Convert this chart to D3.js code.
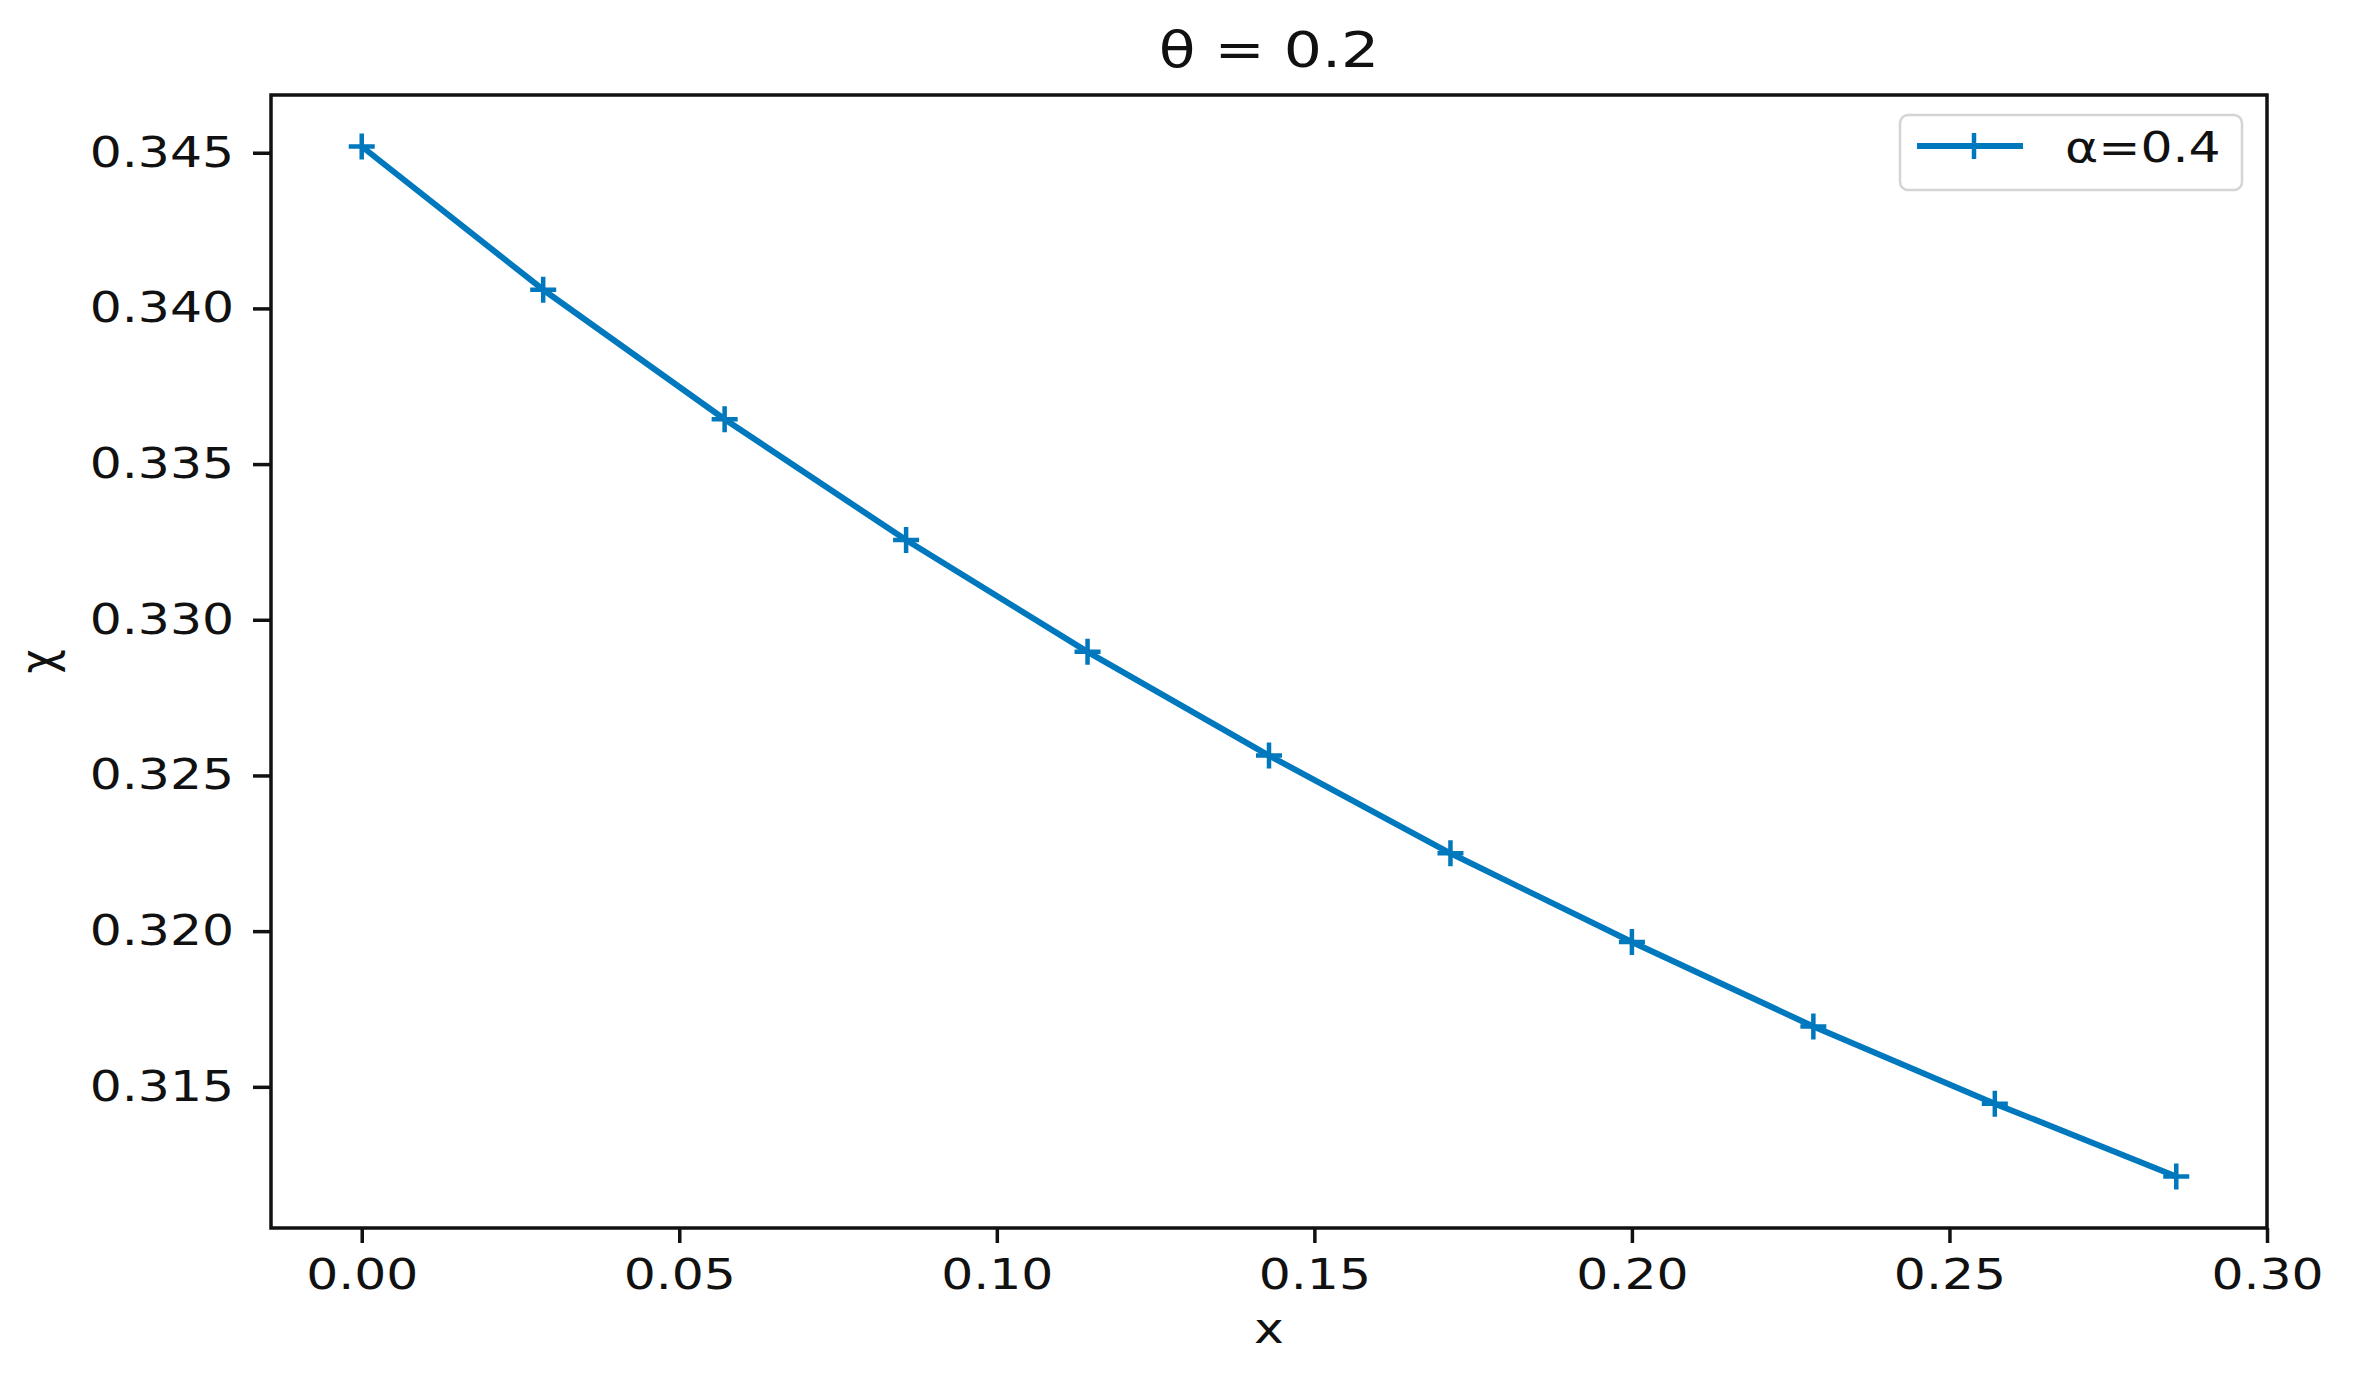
<!DOCTYPE html>
<html>
<head>
<meta charset="utf-8">
<script src="https://cdnjs.cloudflare.com/ajax/libs/d3/7.8.5/d3.min.js"></script>
<style>
  body { margin: 0; background: #fff; }
  text { font-family: "DejaVu Sans", sans-serif; fill: #111; }
</style>
</head>
<body>
<div id="chart"></div>
<script>
// data
var xValues = [0, 1/35, 2/35, 3/35, 4/35, 5/35, 6/35, 7/35, 8/35, 9/35, 10/35];
var chiValues = [0.3452, 0.3406, 0.33644, 0.33256, 0.32897, 0.32564, 0.3225, 0.31965, 0.31694, 0.31446, 0.31212];
var xTicks = [0.00, 0.05, 0.10, 0.15, 0.20, 0.25, 0.30];
var yTicks = [0.315, 0.320, 0.325, 0.330, 0.335, 0.340, 0.345];
var seriesName = "α=0.4";
var titleText = "θ = 0.2";

var W = 2366, H = 1375;
var plotL = 271, plotR = 2267, plotT = 95, plotB = 1228;
var sx = 1.2;   // the reference is stretched sideways
var blue = "#0078bd";

var svg = d3.select("#chart").append("svg")
  .attr("width", W).attr("height", H);

// matplotlib style 5% margins
var xMax = d3.max(xValues), xPad = xMax * 0.05;
var x = d3.scaleLinear().domain([-xPad, xMax + xPad]).range([plotL, plotR]);
var yMin = d3.min(chiValues), yMax = d3.max(chiValues), yPad = (yMax - yMin) * 0.05;
var y = d3.scaleLinear().domain([yMin - yPad, yMax + yPad]).range([plotB, plotT]);

// y axis
var gy = svg.append("g")
  .attr("transform", "translate(" + plotL + ",0)")
  .call(d3.axisLeft(y).tickValues(yTicks).tickFormat(d3.format(".3f"))
    .tickSizeInner(18).tickSizeOuter(0).tickPadding(19));
gy.select(".domain").remove();
gy.selectAll(".tick line").attr("stroke", "#111").attr("stroke-width", 3.5);
gy.selectAll(".tick text")
  .attr("x", -37 / sx)
  .attr("transform", "scale(" + sx + ",1)")
  .style("font-size", "42px")
  .style("font-family", "DejaVu Sans")
  .attr("fill", "#111");

// x axis
var gx = svg.append("g")
  .attr("transform", "translate(0," + plotB + ")")
  .call(d3.axisBottom(x).tickValues(xTicks).tickFormat(d3.format(".2f"))
    .tickSizeInner(15).tickSizeOuter(0).tickPadding(16));
gx.select(".domain").remove();
gx.selectAll(".tick line").attr("stroke", "#111").attr("stroke-width", 3.5);
gx.selectAll(".tick text")
  .attr("transform", "scale(" + sx + ",1)")
  .style("font-size", "42px")
  .style("font-family", "DejaVu Sans")
  .attr("fill", "#111");

// frame
svg.append("rect")
  .attr("x", plotL).attr("y", plotT)
  .attr("width", plotR - plotL).attr("height", plotB - plotT)
  .attr("fill", "none").attr("stroke", "#111").attr("stroke-width", 3.5);

// the line
var pts = xValues.map(function (d, i) { return [d, chiValues[i]]; });
var line = d3.line().x(function (d) { return x(d[0]); }).y(function (d) { return y(d[1]); });
svg.append("path")
  .datum(pts)
  .attr("d", line)
  .attr("fill", "none")
  .attr("stroke", blue)
  .attr("stroke-width", 6)
  .attr("stroke-linejoin", "round");

// plus markers
var m = 13;
svg.selectAll(".mark")
  .data(pts)
  .enter()
  .append("path")
    .attr("class", "mark")
    .attr("d", function (d) {
      var cx = x(d[0]), cy = y(d[1]);
      return "M" + (cx - m) + "," + cy + "H" + (cx + m) + "M" + cx + "," + (cy - m) + "V" + (cy + m);
    })
    .attr("stroke", blue)
    .attr("stroke-width", 4.5);

// title and labels
function stretchedText(px, py, str, size, rot) {
  return svg.append("text")
    .attr("transform", "translate(" + px + "," + py + ") scale(" + sx + ",1)" + (rot ? " rotate(" + rot + ")" : ""))
    .attr("text-anchor", "middle")
    .style("font-size", size + "px")
    .text(str);
}
var midX = (plotL + plotR) / 2;
stretchedText(midX, 67, titleText, 50);
stretchedText(midX, 1343, "x", 42);
stretchedText(55, (plotT + plotB) / 2, "χ", 42, -90);

// legend
var lgX = plotR - 25 - 342, lgY = plotT + 20;
var lg = svg.append("g").attr("transform", "translate(" + lgX + "," + lgY + ")");
lg.append("rect")
  .attr("width", 342).attr("height", 75)
  .attr("rx", 8).attr("ry", 8)
  .attr("fill", "#fff").attr("fill-opacity", 0.8)
  .attr("stroke", "#d4d4d4").attr("stroke-width", 2.5);
lg.append("line")
  .attr("x1", 17).attr("x2", 123).attr("y1", 31).attr("y2", 31)
  .attr("stroke", blue).attr("stroke-width", 6);
lg.append("path")
  .attr("d", "M" + (74 - m) + ",31H" + (74 + m) + "M74," + (31 - m) + "V" + (31 + m))
  .attr("stroke", blue).attr("stroke-width", 4.5);
lg.append("text")
  .attr("transform", "translate(165,47) scale(" + sx + ",1)")
  .style("font-size", "42px")
  .text(seriesName);
</script>
</body>
</html>
